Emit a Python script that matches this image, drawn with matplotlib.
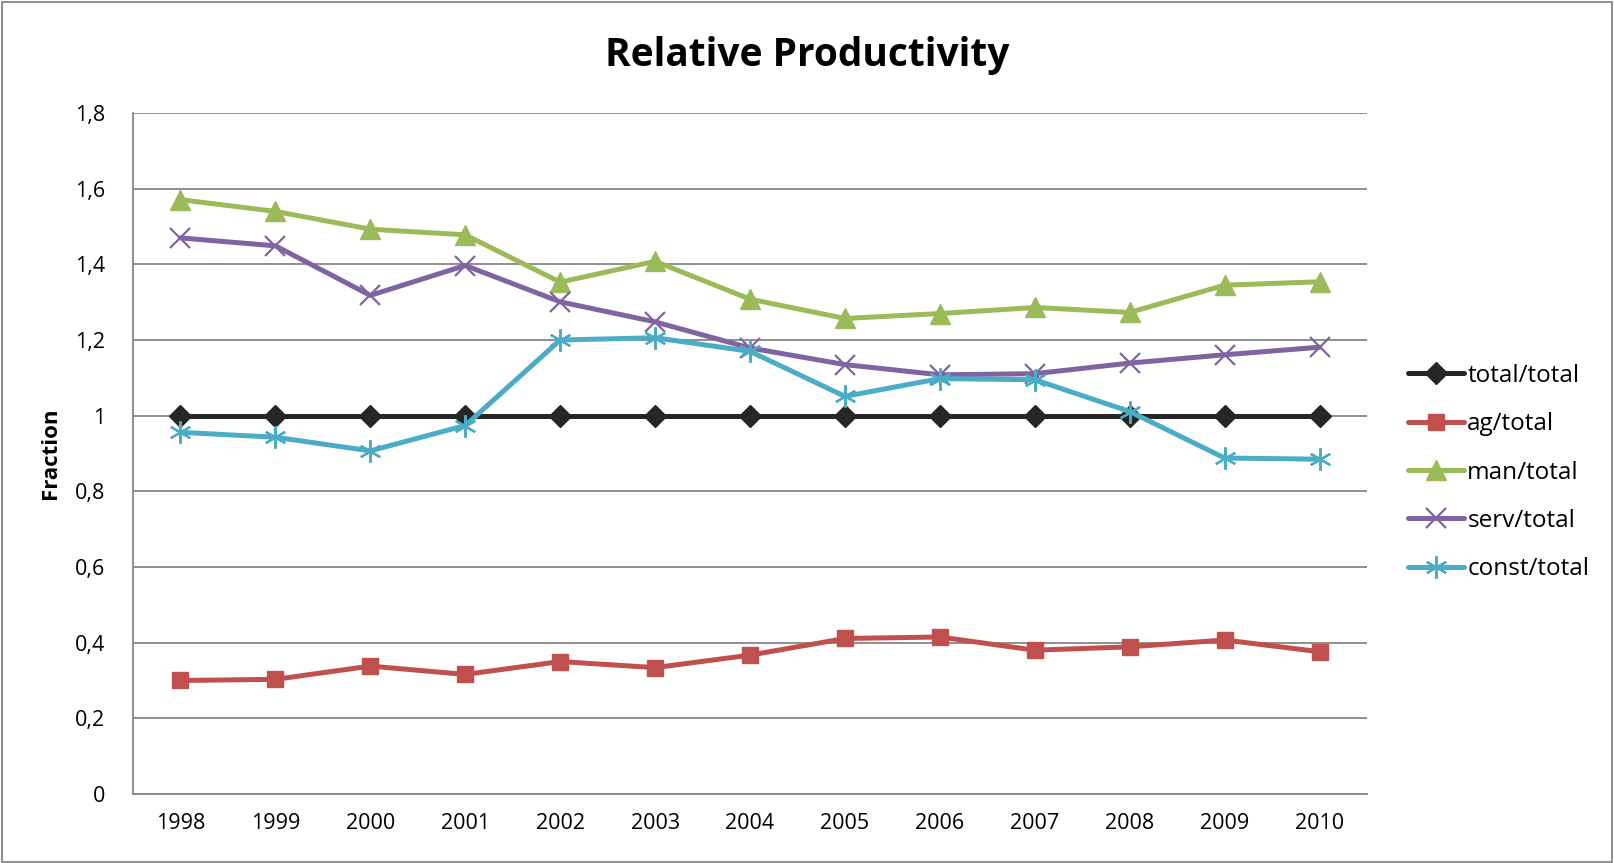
import matplotlib
matplotlib.use('Agg')
import matplotlib.pyplot as plt
from matplotlib.patches import Rectangle

years = ['1998', '1999', '2000', '2001', '2002', '2003', '2004',
         '2005', '2006', '2007', '2008', '2009', '2010']

total_total = [1, 1, 1, 1, 1, 1, 1, 1, 1, 1, 1, 1, 1]
ag_total = [0.300, 0.303, 0.338, 0.316, 0.350, 0.334, 0.367,
            0.411, 0.415, 0.380, 0.389, 0.407, 0.376]
man_total = [1.571, 1.540, 1.493, 1.478, 1.353, 1.408, 1.308,
             1.257, 1.270, 1.286, 1.273, 1.345, 1.354]
serv_total = [1.470, 1.449, 1.318, 1.397, 1.301, 1.248, 1.179,
              1.135, 1.108, 1.111, 1.139, 1.161, 1.181]
const_total = [0.956, 0.943, 0.907, 0.974, 1.200, 1.206, 1.170,
               1.051, 1.098, 1.095, 1.011, 0.888, 0.885]

yticks = [0, 0.2, 0.4, 0.6, 0.8, 1.0, 1.2, 1.4, 1.6, 1.8]
ytick_labels = ['0', '0,2', '0,4', '0,6', '0,8', '1', '1,2', '1,4', '1,6', '1,8']

plt.rcParams['font.family'] = ['Open Sans', 'DejaVu Sans']

fig = plt.figure(figsize=(16.14, 8.63), dpi=100)
ax = fig.add_axes([0.0824, 0.080, 0.7646, 0.789])

x = range(len(years))
# name, values, colour, marker, size, hollow marker?
series = [
    ('total/total', total_total, '#262626', 'D', 11, False),
    ('ag/total', ag_total, '#C0504D', 's', 12, False),
    ('man/total', man_total, '#9BBB59', '^', 15, False),
    ('serv/total', serv_total, '#8064A2', 'x', 14, True),
    ('const/total', const_total, '#4BACC6', (6, 2, 0), 16, True),
]
for name, vals, color, marker, ms, hollow in series:
    ax.plot(x, vals, color=color, lw=3.6, marker=marker, ms=ms,
            mec=color, mew=1.6 if hollow else 1.0, label=name,
            solid_capstyle='round')

ax.set_xlim(-0.5, len(years) - 0.5)
ax.set_ylim(0, 1.8)
ax.set_xticks(list(x))
ax.set_xticklabels(years, fontsize=15.5)
ax.set_yticks(yticks)
ax.set_yticklabels(ytick_labels, fontsize=15.5)
ax.tick_params(axis='x', length=0, pad=14)
ax.tick_params(axis='y', length=0, pad=20)
ax.yaxis.grid(True, color='#868686', lw=1.3)
ax.set_axisbelow(True)
for side in ['top', 'right']:
    ax.spines[side].set_visible(False)
for side in ['left', 'bottom']:
    ax.spines[side].set_color('#868686')
    ax.spines[side].set_linewidth(1.3)

ax.set_ylabel('Fraction', fontsize=16, fontweight='bold', labelpad=10)
fig.text(0.5, 0.936, 'Relative Productivity', ha='center', va='center',
         fontsize=28, fontweight='bold')

ax.legend(loc='center left', bbox_to_anchor=(1.033, 0.472), frameon=False,
          fontsize=17.5, handlelength=2.3, handletextpad=0.15, labelspacing=1.0,
          borderaxespad=0, borderpad=0)

fig.patches.append(Rectangle((0.001, 0.001), 0.998, 0.997, transform=fig.transFigure,
                             fill=False, edgecolor='#868686', lw=1.3))

fig.savefig('out.png', dpi=100)
